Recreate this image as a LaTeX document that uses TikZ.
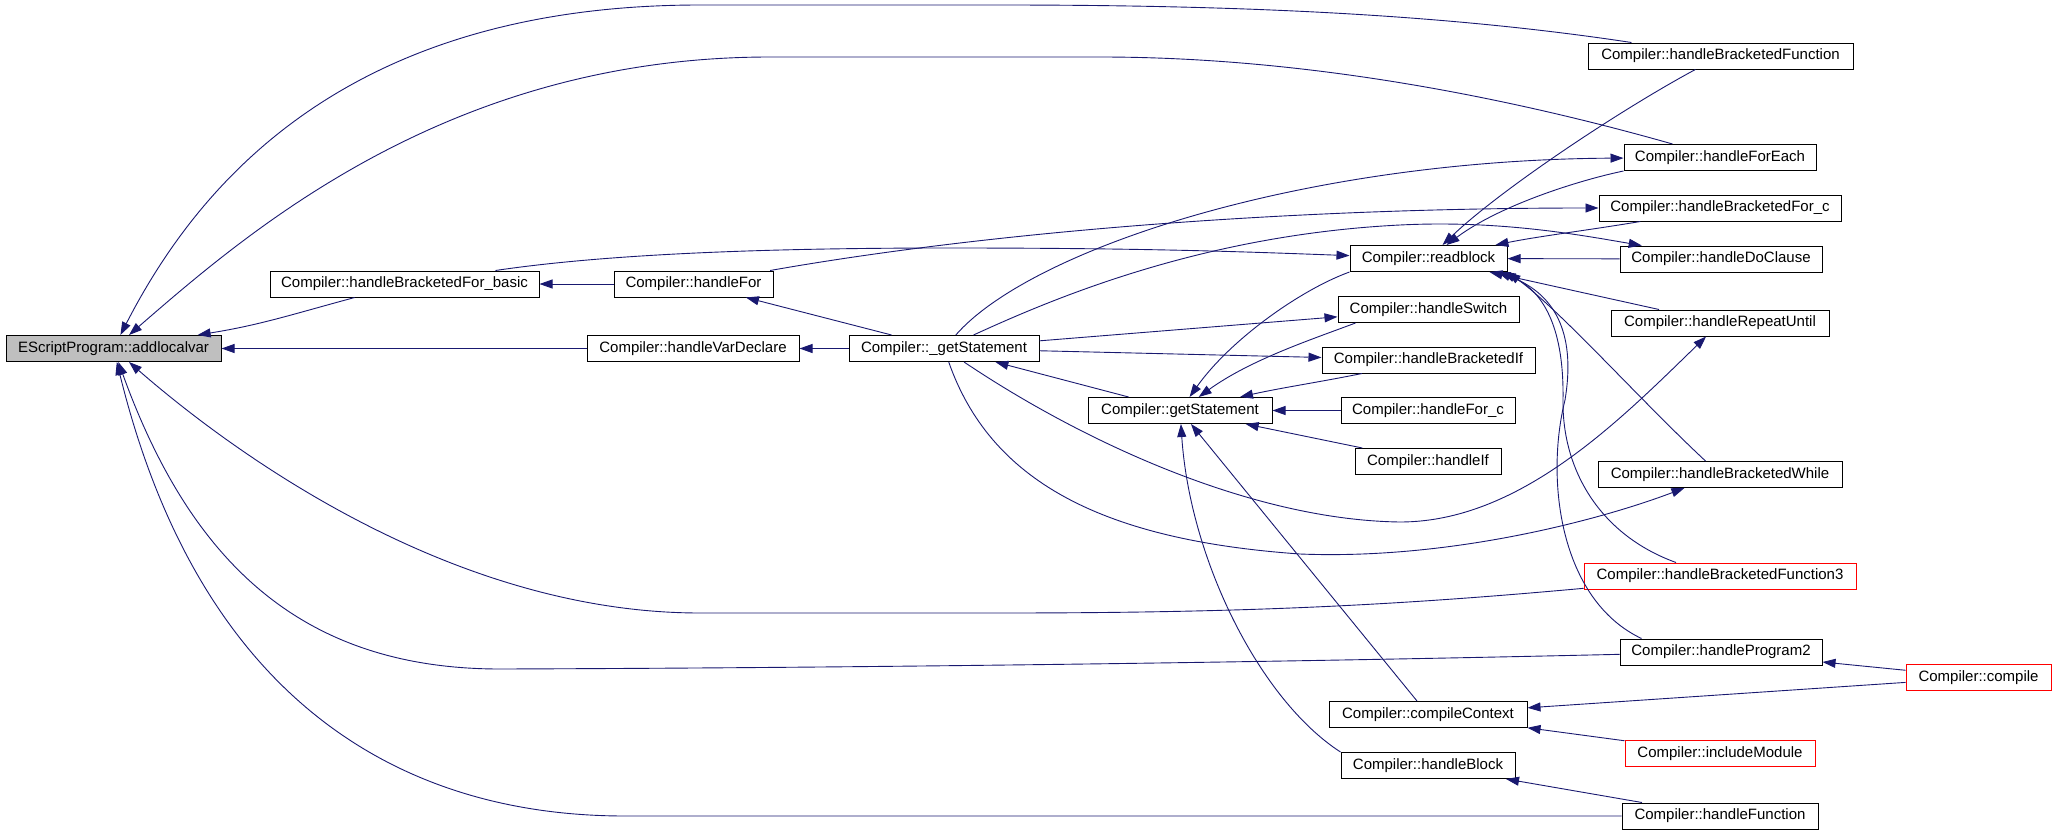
\documentclass[tikz,border=0pt]{standalone}
\usepackage{fontspec}
\setmainfont{Liberation Sans}
\usetikzlibrary{arrows.meta,calc}
\definecolor{edgeDraw}{HTML}{191970}
\definecolor{rootFill}{HTML}{BFBFBF}
\definecolor{extDraw}{HTML}{FF0000}
\tikzset{
  box/.style ={draw, line width=1pt, fill=white, inner sep=0pt, minimum height=26pt, font=\fontsize{15}{18}\selectfont},
  root/.style={box, fill=rootFill},
  ext/.style ={box, draw=extDraw},
  arr/.style ={-{Triangle[length=13pt,width=9pt]}, line width=0.9pt, draw=edgeDraw},
}

\begin{document}
\begin{tikzpicture}[x=1pt, y=-1pt]
  \useasboundingbox (0,0) rectangle (2056,835);

  % function boxes, one column per call depth
  \node[root, minimum width=215pt] (alv)      at (113.5,348.5) {EScriptProgram::addlocalvar};
  \node[box,  minimum width=269pt] (forbasic) at (404.5,284)   {Compiler::handleBracketedFor\_basic};
  \node[box,  minimum width=212pt] (vardecl)  at (693,348.5)   {Compiler::handleVarDeclare};
  \node[box,  minimum width=159pt] (hfor)     at (693.5,284)   {Compiler::handleFor};
  \node[box,  minimum width=190pt] (ugetst)   at (944,348.5)   {Compiler::\_getStatement};
  \node[box,  minimum width=184pt] (getst)    at (1180,410.5)  {Compiler::getStatement};
  \node[box,  minimum width=157pt] (readblk)  at (1428.5,258.5) {Compiler::readblock};
  \node[box,  minimum width=181pt] (hswitch)  at (1428.5,309.5) {Compiler::handleSwitch};
  \node[box,  minimum width=213pt] (hbrif)    at (1428.5,360)  {Compiler::handleBracketedIf};
  \node[box,  minimum width=174pt] (forc)     at (1428,410.5)  {Compiler::handleFor\_c};
  \node[box,  minimum width=146pt] (hif)      at (1428,461.5)  {Compiler::handleIf};
  \node[box,  minimum width=198pt] (cctx)     at (1428,714.5)  {Compiler::compileContext};
  \node[box,  minimum width=174pt] (hblock)   at (1428,765.5)  {Compiler::handleBlock};
  \node[box,  minimum width=265pt] (brfunc)   at (1720.5,56)   {Compiler::handleBracketedFunction};
  \node[box,  minimum width=192pt] (foreach)  at (1720,157.5)  {Compiler::handleForEach};
  \node[box,  minimum width=242pt] (brforc)   at (1720,208)    {Compiler::handleBracketedFor\_c};
  \node[box,  minimum width=202pt] (doclause) at (1721,259)    {Compiler::handleDoClause};
  \node[box,  minimum width=218pt] (repeat)   at (1720,323)    {Compiler::handleRepeatUntil};
  \node[box,  minimum width=244pt] (brwhile)  at (1720,474.5)  {Compiler::handleBracketedWhile};
  \node[ext,  minimum width=272pt] (brfunc3)  at (1720,576)    {Compiler::handleBracketedFunction3};
  \node[box,  minimum width=202pt] (prog2)    at (1721,652)    {Compiler::handleProgram2};
  \node[ext,  minimum width=190pt] (incmod)   at (1720,753.5)  {Compiler::includeModule};
  \node[box,  minimum width=196pt] (hfunc)    at (1720,816)    {Compiler::handleFunction};
  \node[ext,  minimum width=145pt] (compile)  at (1978.5,677.5) {Compiler::compile};

  % straight calls
  \foreach \a/\b in {vardecl/alv, hfor/forbasic, ugetst/vardecl, ugetst/hfor, getst/ugetst,
                     ugetst/hswitch, ugetst/hbrif, forc/getst, hif/getst, cctx/getst,
                     doclause/readblk, repeat/readblk, compile/prog2, compile/cctx,
                     incmod/cctx, hfunc/hblock}
    \draw[arr] (\a) -- (\b);

  % long callers of addlocalvar
  \draw[arr] (brfunc) .. controls (1450,15) and (1250,5) .. (1000,5) -- (700,5)
             .. controls (350,5) and (200,180) .. (alv);
  \draw[arr] (foreach) .. controls (1500,95) and (1300,57) .. (1100,57) -- (770,57)
             .. controls (450,57) and (250,230) .. (alv);
  \draw[arr] (forbasic) .. controls (290,315) and (260,325) .. (alv);
  \draw[arr] (brfunc3) .. controls (1400,605) and (1250,613) .. (1000,613) -- (700,613)
             .. controls (450,613) and (230,450) .. (alv);
  \draw[arr] (prog2) .. controls (1200,664) and (800,668) .. (500,669)
             .. controls (300,669) and (190,560) .. (alv);
  \draw[arr] (hfunc) -- (625,816) .. controls (400,816) and (200,700) .. (alv);

  % _getStatement fan-out
  \draw[arr] (ugetst) .. controls (1030,250) and (1300,160) .. (foreach);
  \draw[arr] (ugetst) .. controls (1050,300) and (1200,235) .. (1400,225)
             .. controls (1500,220) and (1580,235) .. (doclause);
  \draw[arr] (ugetst) .. controls (1080,440) and (1250,520) .. (1400,522)
             .. controls (1520,522) and (1620,420) .. (repeat);
  \draw[arr] (ugetst) .. controls (990,480) and (1100,540) .. (1300,554)
             .. controls (1450,560) and (1600,520) .. (brwhile);

  % into readblock / getStatement
  \draw[arr] (forbasic) .. controls (600,255) and (750,248) .. (950,248)
             .. controls (1150,248) and (1250,252) .. (readblk);
  \draw[arr] (hfor) .. controls (1000,230) and (1300,208) .. (brforc);
  \draw[arr] (readblk.south west) .. controls (1300,290) and (1230,340) .. (getst);
  \draw[arr] ([xshift=18pt]hswitch.south west) .. controls (1310,340) and (1250,360) .. (getst);
  \draw[arr] (hbrif) .. controls (1320,382) and (1280,388) .. (getst);
  \draw[arr] (hblock.north west) .. controls (1260,700) and (1190,560) .. (getst);
  \draw[arr] (brfunc) .. controls (1620,110) and (1500,190) .. (readblk);
  \draw[arr] (foreach.south west) .. controls (1580,180) and (1500,205) .. (readblk);
  \draw[arr] (brforc) .. controls (1590,230) and (1540,236) .. (readblk);
  \draw[arr] (brwhile) .. controls (1640,400) and (1560,310) .. (readblk.south east);
  \draw[arr] ([xshift=-44pt]brfunc3.north) .. controls (1600,535) and (1562,470) .. (1563,400)
             .. controls (1564,340) and (1550,295) .. ([xshift=-5pt]readblk.south east);
  \draw[arr] ([xshift=22pt]prog2.north west) .. controls (1560,600) and (1545,480) .. (1565,400)
             .. controls (1575,340) and (1560,295) .. ([xshift=-10pt]readblk.south east);
\end{tikzpicture}
\end{document}
